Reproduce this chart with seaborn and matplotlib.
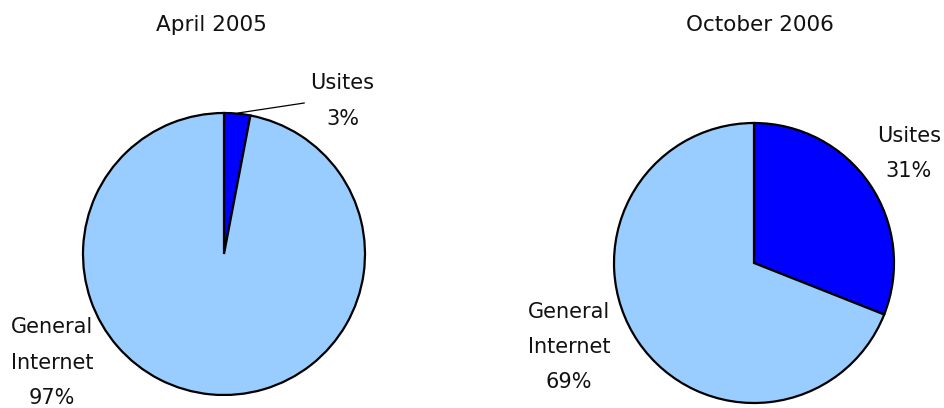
import matplotlib
matplotlib.use("Agg")
import matplotlib.pyplot as plt
import seaborn as sns

sns.set_theme(style="white")
plt.rcParams["font.family"] = ["DejaVu Sans"]

# Share of traffic by segment
titles = ["April 2005", "October 2006"]
categories = ["Usites", "General\nInternet"]
usites_share = [3, 31]
general_share = [97, 69]

colors = ["#0000FF", "#99CCFF"]

W, H = 944, 408
fig = plt.figure(figsize=(W / 100, H / 100), dpi=100)
fig.patch.set_facecolor("white")

# pie centres / radii in pixels
centres = [(224, 254), (754, 263)]
radius = [141, 140]

# label anchors in data units (pie radius = 1)
usites_pos = [(0.84, 1.085), (1.107, 0.78)]
general_pos = [(-1.22, -0.77), (-1.32, -0.60)]
title_x = [211, 760]

for i in range(2):
    cx, cy = centres[i]
    r = radius[i]
    ax = fig.add_axes([(cx - r) / W, (H - cy - r) / H, 2 * r / W, 2 * r / H])
    ax.pie([usites_share[i], general_share[i]], colors=colors,
           startangle=90, counterclock=False, radius=1,
           wedgeprops=dict(edgecolor="black", linewidth=1.6))
    ax.set_xlim(-1, 1)
    ax.set_ylim(-1, 1)
    ax.set_aspect("equal")
    ax.axis("off")

    ux, uy = usites_pos[i]
    ax.text(ux, uy, f"{categories[0]}\n{usites_share[i]}%", ha="center", va="center",
            fontsize=15, linespacing=1.95, color="#111111", clip_on=False)
    gx, gy = general_pos[i]
    ax.text(gx, gy, f"{categories[1]}\n{general_share[i]}%", ha="center", va="center",
            fontsize=15, linespacing=1.95, color="#111111", clip_on=False)

    if i == 0:
        ax.plot([0.10, 0.57], [1.0, 1.071], color="black", linewidth=0.9, clip_on=False)

    fig.text(title_x[i] / W, 1 - 25 / H, titles[i], ha="center", va="center",
             fontsize=15.5, color="#111111")

fig.savefig("out.png", dpi=100, facecolor="white")
